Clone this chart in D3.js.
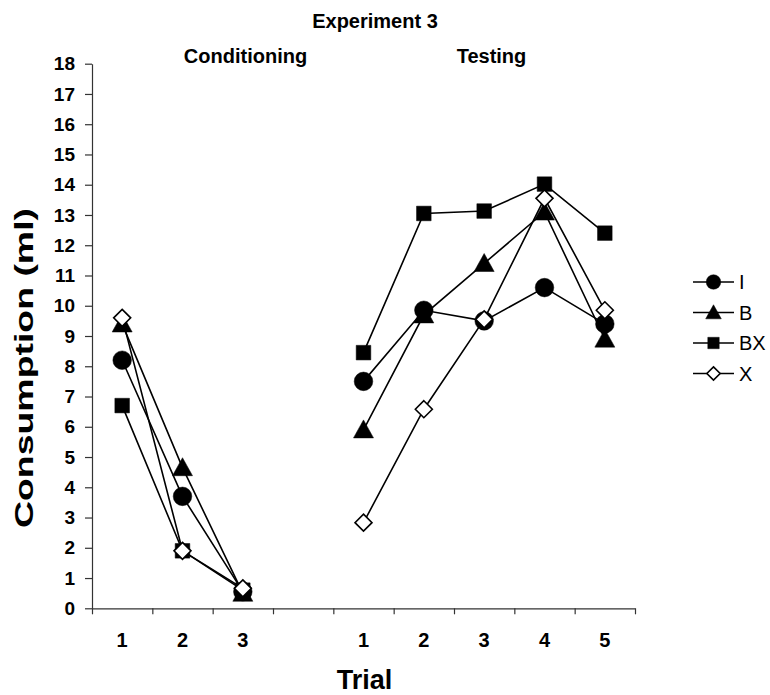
<!DOCTYPE html>
<html><head><meta charset="utf-8">
<script src="https://cdn.jsdelivr.net/npm/d3@7"></script>
<style>body{margin:0;background:#fff}svg{display:block}text{font-family:"Liberation Sans",Arial,sans-serif}</style>
</head><body><svg id="c" width="770" height="695"></svg>
<script>
// ---- data ----
const slots = ["c1","c2","c3","gap","t1","t2","t3","t4","t5"];
const slotLabels = ["1","2","3","","1","2","3","4","5"];
const seriesNames = ["I","B","BX","X"];
const condSlots = ["c1","c2","c3"];
const testSlots = ["t1","t2","t3","t4","t5"];
const condI  = [8.2, 3.7, 0.55];
const condB  = [9.4, 4.65, 0.5];
const condBX = [6.7, 1.9, 0.6];
const condX  = [9.6, 1.9, 0.66];
const testI  = [7.5, 9.85, 9.5, 10.6, 9.4];
const testB  = [5.9, 9.7, 11.4, 13.1, 8.9];
const testBX = [8.45, 13.05, 13.13, 14.02, 12.4];
const testX  = [2.83, 6.58, 9.55, 13.55, 9.85];
const yTicks = d3.range(0, 19, 1);

const svg = d3.select("#c");
const L = 92, R = 635, T = 63.7, B = 608.3;
const x = d3.scaleBand().domain(slots).range([L, R]).padding(0);
const xb = d3.scaleLinear().domain([0, slots.length]).range([L, R]);
const y = d3.scaleLinear().domain([0, 18]).range([B, T]);

// axes
const ya = svg.append("g").attr("transform", `translate(${L},0)`)
  .call(d3.axisLeft(y).tickValues(yTicks).tickSize(7).tickPadding(10).tickSizeOuter(0));
ya.select(".domain").attr("stroke", "#333").attr("stroke-width", 1.2);
ya.selectAll(".tick line").attr("stroke", "#333").attr("stroke-width", 1.2);
ya.selectAll(".tick text").attr("font-size", 19).attr("font-weight", "bold").attr("fill", "#000")
  .attr("font-family", '"Liberation Sans",Arial,sans-serif');

const xa = svg.append("g").attr("transform", `translate(0,${B})`)
  .call(d3.axisBottom(xb).tickValues(d3.range(0, slots.length + 1)).tickSize(6).tickFormat("").tickSizeOuter(0));
xa.select(".domain").attr("stroke", "#333").attr("stroke-width", 1.2);
xa.selectAll(".tick line").attr("stroke", "#333").attr("stroke-width", 1.2);

svg.append("g").selectAll("text").data(slots).join("text")
  .attr("x", d => x(d) + x.bandwidth() / 2).attr("y", 647)
  .attr("text-anchor", "middle").attr("font-size", 20).attr("font-weight", "bold")
  .text((d, i) => slotLabels[i]);

// titles
svg.append("text").attr("x", 375).attr("y", 28).attr("text-anchor", "middle")
  .attr("font-size", 20).attr("font-weight", "bold").text("Experiment 3");
svg.append("text").attr("x", 245.5).attr("y", 63).attr("text-anchor", "middle")
  .attr("font-size", 20).attr("font-weight", "bold").text("Conditioning");
svg.append("text").attr("x", 491.5).attr("y", 63).attr("text-anchor", "middle")
  .attr("font-size", 20).attr("font-weight", "bold").text("Testing");
svg.append("text").attr("x", 364.5).attr("y", 689).attr("text-anchor", "middle")
  .attr("font-size", 27).attr("font-weight", "bold").text("Trial");
svg.append("text").attr("transform", "translate(33,368) rotate(-90)").attr("text-anchor", "middle")
  .attr("font-size", 26).attr("font-weight", "bold")
  .attr("textLength", 320).attr("lengthAdjust", "spacingAndGlyphs").text("Consumption (ml)");

// markers
const shapes = {I: "circle", B: "triangle", BX: "square", X: "diamond"};
function markerPath(shape, s) {
  if (shape === "circle") { const r = 9.3 * s; return `M${-r},0A${r},${r} 0 1,0 ${r},0A${r},${r} 0 1,0 ${-r},0Z`; }
  if (shape === "triangle") { const w = 10 * s, h = 18 * s; return `M0,${-h*0.55}L${w},${h*0.45}L${-w},${h*0.45}Z`; }
  if (shape === "square") { const a = 7.3 * s; return `M${-a},${-a}H${a}V${a}H${-a}Z`; }
  const d = 8.5 * s; return `M0,${-d}L${d},0L0,${d}L${-d},0Z`;
}
const cond = {I: condI, B: condB, BX: condBX, X: condX};
const test = {I: testI, B: testB, BX: testBX, X: testX};
const cx = d => x(d) + x.bandwidth() / 2;
const line = d3.line().x(p => cx(p[0])).y(p => y(p[1]));

seriesNames.forEach(name => {
  const g = svg.append("g");
  [[condSlots, cond[name]], [testSlots, test[name]]].forEach(([sl, vals]) => {
    const pts = sl.map((s, i) => [s, vals[i]]);
    g.append("path").attr("d", line(pts)).attr("fill", "none").attr("stroke", "#000").attr("stroke-width", 1.6);
    g.selectAll(null).data(pts).join("path")
      .attr("transform", p => `translate(${cx(p[0])},${y(p[1])})`)
      .attr("d", markerPath(shapes[name], 1))
      .attr("fill", name === "X" ? "#fff" : "#000")
      .attr("stroke", "#000").attr("stroke-width", name === "X" ? 1.6 : 0.5);
  });
});

// legend
const lg = svg.append("g");
seriesNames.forEach((name, i) => {
  const ly = 282 + i * 30.5;
  lg.append("line").attr("x1", 693).attr("x2", 734).attr("y1", ly).attr("y2", ly)
    .attr("stroke", "#000").attr("stroke-width", 1.6);
  lg.append("path").attr("transform", `translate(713.5,${ly})`).attr("d", markerPath(shapes[name], 0.78))
    .attr("fill", name === "X" ? "#fff" : "#000").attr("stroke", "#000").attr("stroke-width", name === "X" ? 1.6 : 0.5);
  lg.append("text").attr("x", 739).attr("y", ly + 7).attr("font-size", 20).text(name);
});
</script></body></html>
